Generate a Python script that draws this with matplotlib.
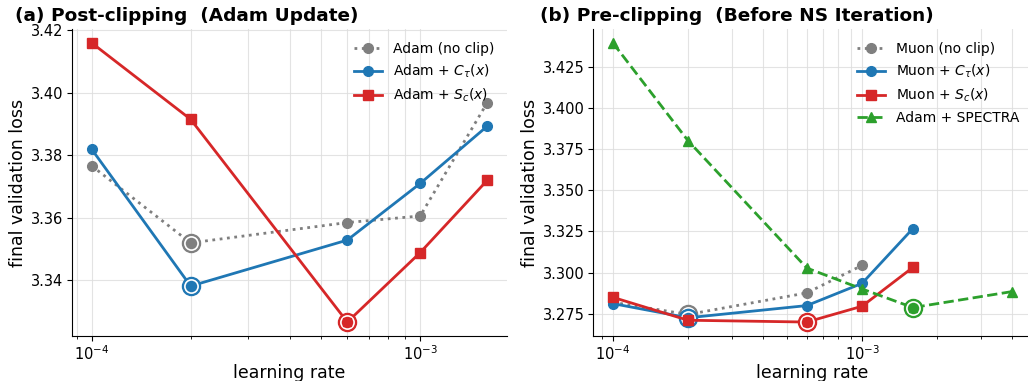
import matplotlib
matplotlib.use("Agg")
import matplotlib.pyplot as plt
import numpy as np

# ---- data ----
lr = [1e-4, 2e-4, 6e-4, 1e-3, 1.6e-3]
adam_noclip = [3.3766, 3.3520, 3.3585, 3.3606, 3.3968]
adam_ct = [3.3819, 3.3382, 3.3529, 3.3710, 3.3893]
adam_sc = [3.4159, 3.3915, 3.3267, 3.3489, 3.3720]

lr_muon_noclip = [1e-4, 2e-4, 6e-4, 1e-3]
muon_noclip = [3.2820, 3.2746, 3.2877, 3.3044]
muon_ct = [3.2812, 3.2726, 3.2800, 3.2935, 3.3268]
muon_sc = [3.2850, 3.2711, 3.2700, 3.2796, 3.3032]
lr_spectra = [1e-4, 2e-4, 6e-4, 1e-3, 1.6e-3, 4e-3]
adam_spectra = [3.4395, 3.3802, 3.3028, 3.2901, 3.2788, 3.2885]

yticks_a = [3.34, 3.36, 3.38, 3.40, 3.42]
yticks_b = [3.275, 3.300, 3.325, 3.350, 3.375, 3.400, 3.425]

GRAY, BLUE, RED, GREEN = "#7f7f7f", "#1f77b4", "#d62728", "#2ca02c"

fig = plt.figure(figsize=(10.28, 3.81), dpi=100)
ax1 = fig.add_axes([72/1028, 45/381, 435/1028, 307/381])
ax2 = fig.add_axes([593/1028, 45/381, 439/1028, 307/381])


def series(ax, xs, ys, color, ls, marker, label):
    ax.plot(xs, ys, color=color, ls=ls, lw=2, marker=marker, ms=7, label=label)
    i = int(np.argmin(ys))
    ax.plot([xs[i]], [ys[i]], marker="o", ms=13, mfc=color, mec=color, ls="none")
    ax.plot([xs[i]], [ys[i]], marker="o", ms=9.5, mfc=color, mec="white", mew=1.2, ls="none")
    if marker != "o":
        ax.plot([xs[i]], [ys[i]], marker=marker, ms=6, mfc=color, mec=color, ls="none")


def style(ax, yticks, fmt):
    ax.set_xscale("log")
    ax.set_yticks(yticks)
    ax.set_yticklabels([fmt.format(v) for v in yticks])
    ax.grid(True, which="both", color="#dddddd", lw=0.8, alpha=0.8)
    ax.set_axisbelow(True)
    for s in ["top", "right"]:
        ax.spines[s].set_visible(False)
    ax.tick_params(labelsize=10.5, pad=2.5)
    ax.set_xlabel("learning rate", fontsize=12.5, labelpad=1)
    ax.set_ylabel("final validation loss", fontsize=12.5, labelpad=3)


# ---- panel (a) ----
series(ax1, lr, adam_noclip, GRAY, ":", "o", "Adam (no clip)")
series(ax1, lr, adam_ct, BLUE, "-", "o", r"Adam + $C_\tau(x)$")
series(ax1, lr, adam_sc, RED, "-", "s", r"Adam + $S_c(x)$")
style(ax1, yticks_a, "{:.2f}")
ax1.legend(loc="upper right", frameon=False, fontsize=10)
ax1.set_title("(a) Post-clipping  (Adam Update)", fontsize=13.3, fontweight="bold", loc="left", x=-0.13)

# ---- panel (b) ----
series(ax2, lr_muon_noclip, muon_noclip, GRAY, ":", "o", "Muon (no clip)")
series(ax2, lr, muon_ct, BLUE, "-", "o", r"Muon + $C_\tau(x)$")
series(ax2, lr, muon_sc, RED, "-", "s", r"Muon + $S_c(x)$")
series(ax2, lr_spectra, adam_spectra, GREEN, "--", "^", "Adam + SPECTRA")
style(ax2, yticks_b, "{:.3f}")
ax2.legend(loc="upper right", frameon=False, fontsize=10)
ax2.set_title("(b) Pre-clipping  (Before NS Iteration)", fontsize=13.3, fontweight="bold", loc="left", x=-0.12)

fig.savefig("out.png", dpi=100)
